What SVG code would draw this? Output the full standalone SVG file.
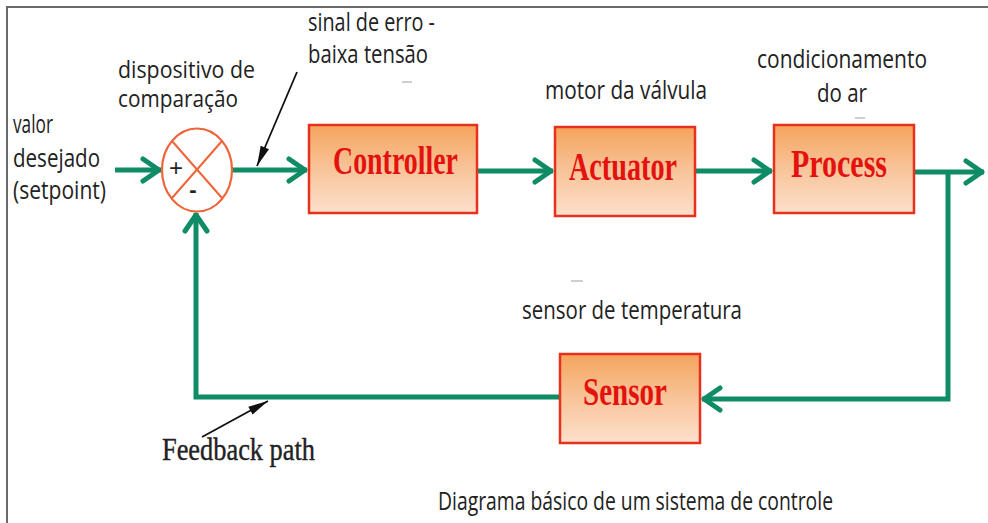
<svg xmlns="http://www.w3.org/2000/svg" width="988" height="523" viewBox="0 0 988 523">
<defs>
<linearGradient id="boxfill" x1="0" y1="0" x2="0" y2="1">
<stop offset="0" stop-color="#f4a45c"/>
<stop offset="0.5" stop-color="#f8c49a"/>
<stop offset="1" stop-color="#fde0cc"/>
</linearGradient>
<marker id="chev" markerUnits="userSpaceOnUse" markerWidth="30" markerHeight="30" refX="2" refY="0" viewBox="-22 -15 30 30" orient="auto" overflow="visible">
<path d="M-16,-11 L0,0 L-16,11" fill="none" stroke="#0f8c66" stroke-width="5" stroke-linecap="round" stroke-linejoin="round"/>
</marker>
<marker id="blk" markerUnits="userSpaceOnUse" markerWidth="24" markerHeight="12" refX="0" refY="0" viewBox="-20 -6 24 12" orient="auto" overflow="visible">
<path d="M-20,-4.5 L0,0 L-20,4.5 Z" fill="#111"/>
</marker>
</defs>
<style>
.lbl{font-family:"Open Sans","Noto Sans","Liberation Sans",sans-serif;font-size:25px;fill:#222}
.tight{font-size:23px}
.box{fill:url(#boxfill);stroke:#e8301e;stroke-width:2.5}
.btxt{font-family:"Liberation Serif","Times New Roman",serif;font-weight:bold;font-size:39px;fill:#e4120e}
.conn{fill:none;stroke:#0f8c66;stroke-width:5;stroke-linejoin:miter}
.ptr{fill:none;stroke:#111;stroke-width:1.8}
.dash{stroke:#cfcfcf;stroke-width:2}
</style>
<rect width="988" height="523" fill="#ffffff"/>
<path d="M7,523 L7,7 L988,7" fill="none" stroke="#6a6a6a" stroke-width="2"/>

<g id="connectors">
<line class="conn" x1="115" y1="170" x2="161" y2="170" marker-end="url(#chev)"/>
<line class="conn" x1="232" y1="170" x2="307" y2="170" marker-end="url(#chev)"/>
<line class="conn" x1="477" y1="171" x2="553" y2="171" marker-end="url(#chev)"/>
<line class="conn" x1="695" y1="171" x2="772" y2="171" marker-end="url(#chev)"/>
<line class="conn" x1="914" y1="172" x2="984" y2="172" marker-end="url(#chev)"/>
<polyline class="conn" points="948,172 948,399 702,399" marker-end="url(#chev)"/>
<polyline class="conn" points="560,397 196,397 196,213" marker-end="url(#chev)"/>
<line class="ptr" x1="297" y1="72" x2="257" y2="166" marker-end="url(#blk)"/>
<line class="ptr" x1="202" y1="437" x2="268" y2="401" marker-end="url(#blk)"/>
</g>

<g id="comparator">
<ellipse cx="197" cy="170" rx="35" ry="41.5" fill="#ffffff" stroke="#ef6438" stroke-width="2.2"/>
<line x1="172" y1="141" x2="222" y2="198" stroke="#ef6438" stroke-width="2"/>
<line x1="222" y1="141" x2="172" y2="198" stroke="#ef6438" stroke-width="2"/>
<text x="176" y="176" text-anchor="middle" font-family="Liberation Sans, sans-serif" font-size="24" fill="#222">+</text>
<text x="193" y="197" text-anchor="middle" font-family="Liberation Sans, sans-serif" font-size="22" font-weight="bold" fill="#222">-</text>
</g>

<g id="controller">
<rect class="box" x="309" y="125" width="168" height="88"/>
<text class="btxt" x="333" y="174" textLength="125" lengthAdjust="spacingAndGlyphs">Controller</text>
</g>
<g id="actuator">
<rect class="box" x="555" y="127" width="140" height="89"/>
<text class="btxt" x="569" y="180" textLength="108" lengthAdjust="spacingAndGlyphs">Actuator</text>
</g>
<g id="process">
<rect class="box" x="774" y="125" width="140" height="88"/>
<text class="btxt" x="791" y="177" textLength="96" lengthAdjust="spacingAndGlyphs">Process</text>
</g>
<g id="sensor">
<rect class="box" x="560" y="354" width="140" height="89"/>
<text class="btxt" x="583" y="405" textLength="84" lengthAdjust="spacingAndGlyphs">Sensor</text>
</g>

<g id="labels">
<text class="lbl" x="308" y="31" textLength="127" lengthAdjust="spacingAndGlyphs">sinal de erro -</text>
<text class="lbl" x="308" y="63" textLength="120" lengthAdjust="spacingAndGlyphs">baixa tensão</text>
<text class="lbl tight" x="118" y="78" textLength="137" lengthAdjust="spacingAndGlyphs">dispositivo de</text>
<text class="lbl tight" x="118" y="107" textLength="120" lengthAdjust="spacingAndGlyphs">comparação</text>
<text class="lbl" x="13" y="133" textLength="40" lengthAdjust="spacingAndGlyphs">valor</text>
<text class="lbl" x="13" y="167" textLength="87" lengthAdjust="spacingAndGlyphs">desejado</text>
<text class="lbl" x="13" y="199" textLength="93" lengthAdjust="spacingAndGlyphs">(setpoint)</text>
<text class="lbl" x="545" y="99" textLength="162" lengthAdjust="spacingAndGlyphs">motor da válvula</text>
<text class="lbl" x="757" y="68" textLength="170" lengthAdjust="spacingAndGlyphs">condicionamento</text>
<text class="lbl" x="817" y="102" textLength="50" lengthAdjust="spacingAndGlyphs">do ar</text>
<text class="lbl" x="522" y="319" textLength="220" lengthAdjust="spacingAndGlyphs">sensor de temperatura</text>
<text class="lbl" x="438" y="510" font-size="25" textLength="395" lengthAdjust="spacingAndGlyphs">Diagrama básico de um sistema de controle</text>
<text x="162" y="460" font-family="Liberation Serif, Times New Roman, serif" font-size="32" fill="#222" stroke="#222" stroke-width="0.4" textLength="153" lengthAdjust="spacingAndGlyphs">Feedback path</text>
<line class="dash" x1="402" y1="82" x2="412" y2="82"/>
<line class="dash" x1="855" y1="118" x2="865" y2="118"/>
<line class="dash" x1="571" y1="281" x2="583" y2="281"/>
</g>
</svg>
